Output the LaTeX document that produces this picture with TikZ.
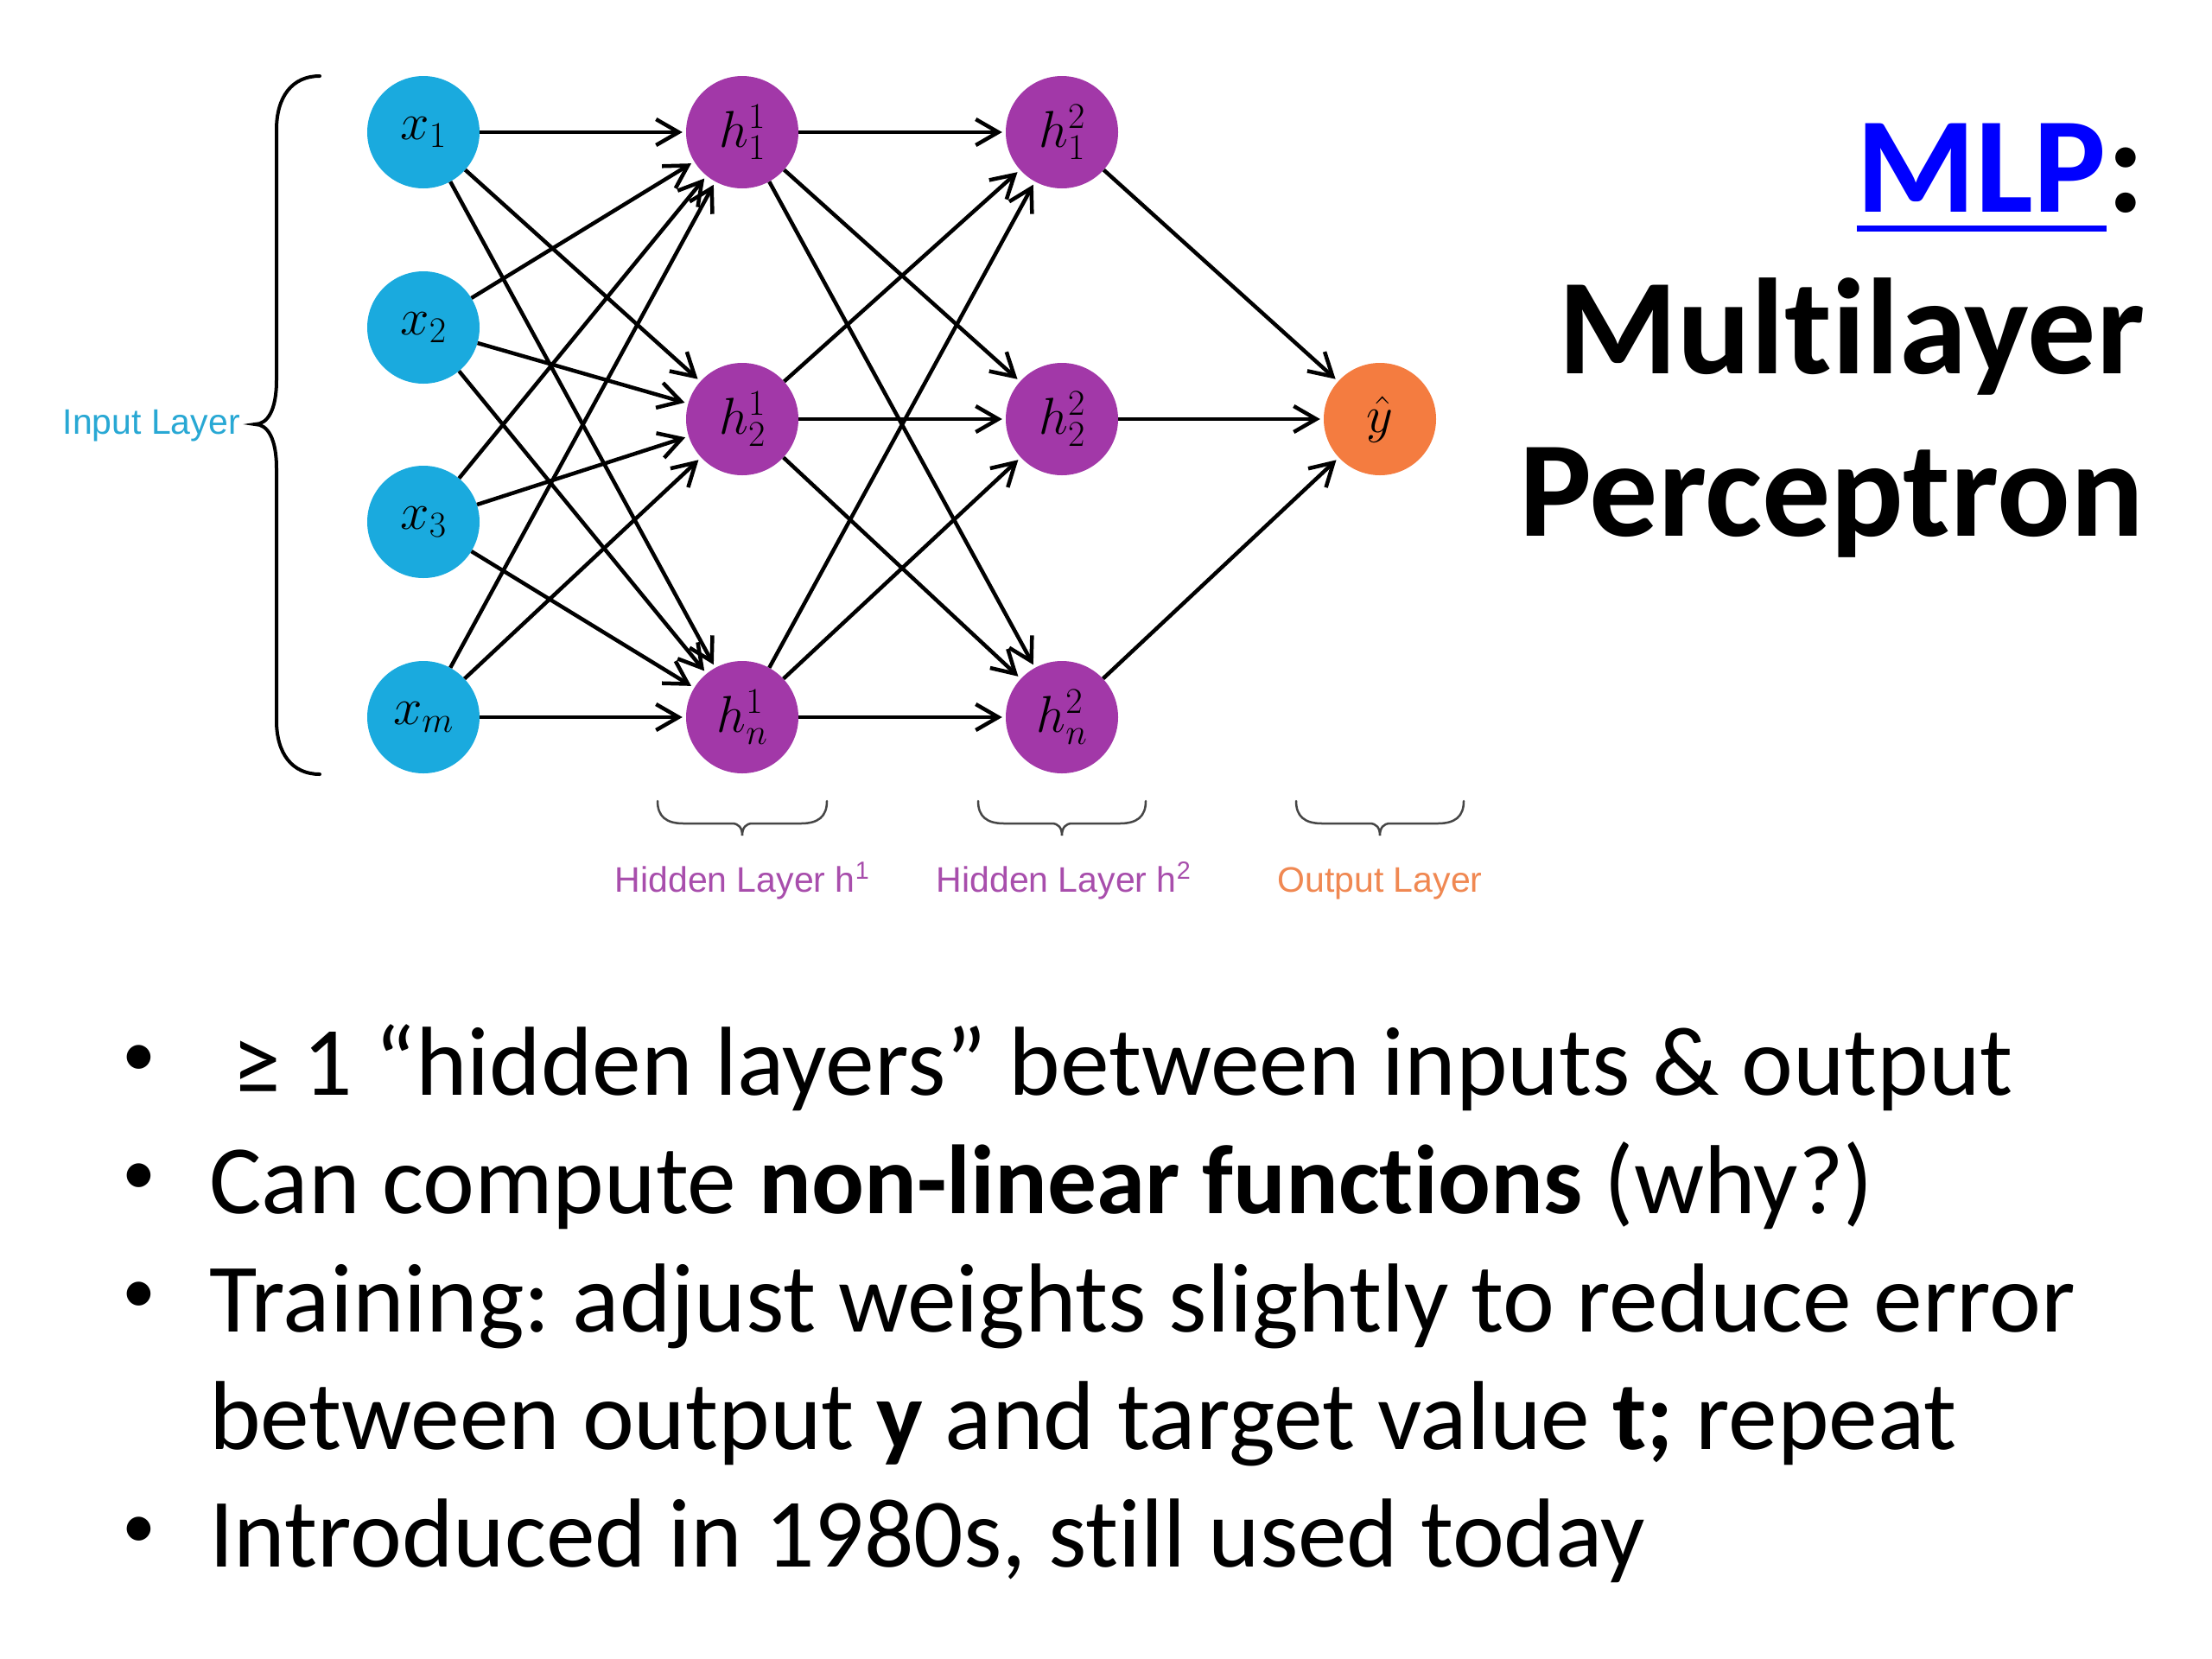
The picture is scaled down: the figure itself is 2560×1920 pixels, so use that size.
\RequirePackage{fix-cm}
\documentclass[tikz,border=0pt]{standalone}
\usepackage{fontspec}
\setmainfont{Carlito}[Ligatures={NoCommon,NoRequired,NoContextual}]
\newfontfamily\lblfont{Liberation Sans}
\usetikzlibrary{arrows.meta}
\definecolor{incol}{RGB}{26,170,222}
\definecolor{hidcol}{RGB}{162,56,168}
\definecolor{outcol}{RGB}{244,124,64}
\definecolor{inlbl}{RGB}{40,168,212}
\definecolor{hidlbl}{RGB}{168,78,172}
\definecolor{outlbl}{RGB}{240,136,82}
\definecolor{mlpblue}{RGB}{0,0,255}
\definecolor{bracegray}{RGB}{70,70,70}
\frenchspacing
\begin{document}
\begin{tikzpicture}[x=1pt,y=-1pt,
  neuron/.style={circle,minimum size=130pt,inner sep=0pt,text=black,font=\fontsize{60}{72}\selectfont},
  innode/.style={neuron,fill=incol},
  hidnode/.style={neuron,fill=hidcol},
  outnode/.style={neuron,fill=outcol},
  edge/.style={line width=4.5pt,-{Straight Barb[length=26pt,width=30pt,line width=4.5pt]},shorten >=4pt},
  lbl/.style={inner sep=0pt,font=\lblfont\fontsize{41}{48}\selectfont},
  bracestyle/.style={line width=2.5pt,bracegray,line cap=round},
  bigbrace/.style={line width=4pt,black,line cap=round},
  bodytext/.style={inner sep=0pt,anchor=base west,font=\frenchspacing\fontsize{113.5}{136}\selectfont},
  bulletmark/.style={inner sep=0pt,anchor=center,font=\fontsize{78}{90}\selectfont},
  titletext/.style={inner sep=0pt,anchor=base east,font=\bfseries\fontsize{158}{188}\selectfont}]
\useasboundingbox (0,0) rectangle (2560,1920);
\fill[white] (0,0) rectangle (2560,1920);

% nodes
\node[innode] (x1) at (490,153) {$x_1$};
\node[innode] (x2) at (490,379) {$x_2$};
\node[innode] (x3) at (490,604) {$x_3$};
\node[innode] (xm) at (490,830) {$x_m$};
\node[hidnode] (h11) at (859,153) {$h^1_1$};
\node[hidnode] (h12) at (859,485) {$h^1_2$};
\node[hidnode] (h1n) at (859,830) {$h^1_n$};
\node[hidnode] (h21) at (1229,153) {$h^2_1$};
\node[hidnode] (h22) at (1229,485) {$h^2_2$};
\node[hidnode] (h2n) at (1229,830) {$h^2_n$};
\node[outnode] (yh) at (1597,485) {$\hat{y}$};

% edges
\foreach \a in {x1,x2,x3,xm}
  \foreach \b in {h11,h12,h1n}
    \draw[edge] (\a) -- (\b);
\foreach \a in {h11,h12,h1n}
  \foreach \b in {h21,h22,h2n}
    \draw[edge] (\a) -- (\b);
\foreach \a in {h21,h22,h2n}
  \draw[edge] (\a) -- (yh);

% left brace
\draw[bigbrace] (370,88) .. controls (338,88) and (320,112) .. (320,150)
  -- (320,440) .. controls (320,474) and (310,491) .. (295,491)
  .. controls (310,491) and (320,508) .. (320,542)
  -- (320,834) .. controls (320,872) and (338,896) .. (370,896);
\node[lbl,text=inlbl,anchor=base east] (inlabel) at (278,502) {Input Layer};

% bottom braces
\foreach \c/\w in {859/98,1229/97,1597/97}{
  \draw[bracestyle] (\c-\w,927) .. controls (\c-\w,945) and (\c-\w+10,953) .. (\c-\w+30,953)
    -- (\c-12,953) .. controls (\c-4,953) and (\c,958) .. (\c,967)
    .. controls (\c,958) and (\c+4,953) .. (\c+12,953)
    -- (\c+\w-30,953) .. controls (\c+\w-10,953) and (\c+\w,945) .. (\c+\w,927);
}
\node[lbl,text=hidlbl,anchor=base] (hl1) at (859,1032) {Hidden Layer h\textsuperscript{1}};
\node[lbl,text=hidlbl,anchor=base] (hl2) at (1231,1032) {Hidden Layer h\textsuperscript{2}};
\node[lbl,text=outlbl,anchor=base] (ol) at (1597,1032) {Output Layer};

% title
\node[titletext] (colon) at (2482,245) {:};
\node[titletext,text=mlpblue] (mlp) at (colon.base west) {MLP};
\draw[mlpblue,line width=7pt] ([yshift=-19pt]mlp.base west) -- ([yshift=-19pt]mlp.base east);
\node[titletext] (t2) at (2482,432) {Multilayer};
\node[titletext] (t3) at (2482,620) {Perceptron};

% bullets
\node[bulletmark] (b1) at (161,1228) {•};
\node[bulletmark] (b2) at (161,1365) {•};
\node[bulletmark] (b3) at (161,1502) {•};
\node[bulletmark] (b5) at (161,1774) {•};
\node[bodytext] (l1) at (268,1267) {≥ 1 “hidden layers” between inputs \& output};
\node[bodytext] (l2) at (242,1404) {Can compute \textbf{non-linear functions} (why?)};
\node[bodytext] (l3) at (242,1541) {Training: adjust weights slightly to reduce error};
\node[bodytext] (l4) at (242,1677) {between output \textbf{y} and target value \textbf{t;} repeat};
\node[bodytext] (l5) at (242,1813) {Introduced in 1980s, still used today};
\end{tikzpicture}
\end{document}
